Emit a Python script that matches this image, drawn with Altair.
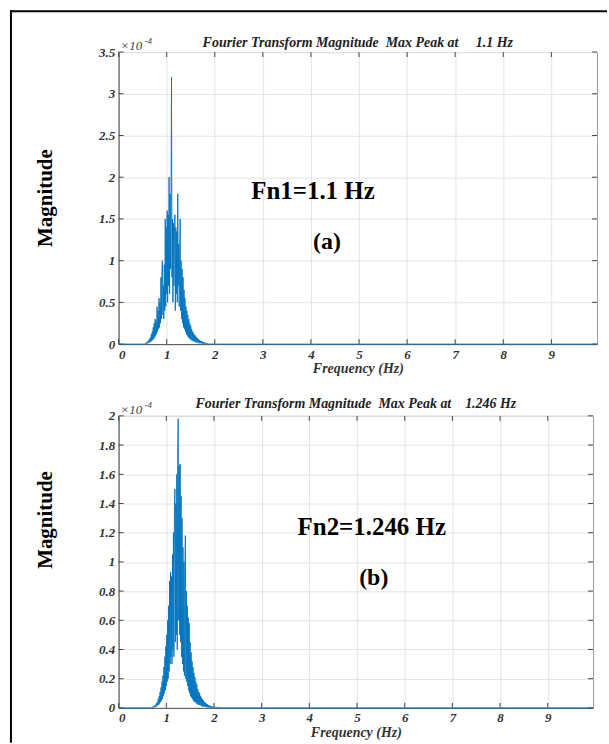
import altair as alt
import pandas as pd

FONT = "Liberation Serif"
BLUE = "#0072BD"

# ---------------- data (magnitudes in units of 1e-4) ----------------
freq_a = [0.0,
    0.55, 0.56, 0.57, 0.58, 0.59, 0.60, 0.61, 0.62, 0.63, 0.64,
    0.65, 0.66, 0.67, 0.68, 0.69, 0.70, 0.71, 0.72, 0.73, 0.74,
    0.75, 0.76, 0.77, 0.78, 0.79, 0.80, 0.81, 0.82, 0.83, 0.84,
    0.85, 0.86, 0.87, 0.88, 0.89, 0.90, 0.91, 0.92, 0.93, 0.94,
    0.95, 0.96, 0.97, 0.98, 0.99, 1.00, 1.01, 1.02, 1.03, 1.04,
    1.05, 1.06, 1.07, 1.08, 1.09, 1.10, 1.11, 1.12, 1.13, 1.14,
    1.15, 1.16, 1.17, 1.18, 1.19, 1.20, 1.21, 1.22, 1.23, 1.24,
    1.25, 1.26, 1.27, 1.28, 1.29, 1.30, 1.31, 1.32, 1.33, 1.34,
    1.35, 1.36, 1.37, 1.38, 1.39, 1.40, 1.41, 1.42, 1.43, 1.44,
    1.45, 1.46, 1.47, 1.48, 1.49, 1.50, 1.51, 1.52, 1.53, 1.54,
    1.55, 1.56, 1.57, 1.58, 1.59, 1.60, 1.61, 1.62, 1.63, 1.64,
    1.65, 1.66, 1.67, 1.68, 1.69, 1.70, 1.71, 1.72, 1.73, 1.74,
    1.75, 1.76, 1.77, 1.78, 1.79, 1.80, 1.81, 1.82, 1.83, 1.84,
    1.85, 1.86, 1.87, 1.88, 1.89, 1.90, 1.91, 1.92, 1.93, 1.94,
    1.95, 1.96, 1.97, 1.98, 1.99, 2.00, 2.01, 2.02, 2.03, 2.04,
    2.05, 9.95]
mag_a = [0.0,
    0.00, 0.01, 0.00, 0.02, 0.01, 0.03, 0.01, 0.04, 0.02, 0.06,
    0.02, 0.08, 0.03, 0.12, 0.04, 0.15, 0.05, 0.20, 0.06, 0.25,
    0.08, 0.30, 0.10, 0.28, 0.12, 0.45, 0.15, 0.40, 0.18, 0.55,
    0.20, 0.50, 0.25, 0.80, 0.30, 0.85, 1.00, 0.35, 0.70, 0.30,
    0.95, 0.40, 1.50, 0.45, 1.40, 0.60, 1.60, 0.50, 1.55, 0.70,
    2.00, 0.60, 1.80, 0.90, 1.65, 3.20, 0.80, 1.50, 0.50, 1.45,
    0.70, 1.30, 1.55, 0.40, 1.40, 0.60, 1.35, 0.50, 1.80, 0.70,
    1.20, 0.45, 1.10, 1.50, 0.40, 1.00, 0.30, 0.90, 0.25, 0.80,
    0.20, 0.65, 0.18, 0.55, 0.15, 0.45, 0.12, 0.40, 0.10, 0.35,
    0.08, 0.30, 0.07, 0.25, 0.06, 0.22, 0.05, 0.18, 0.04, 0.15,
    0.04, 0.13, 0.03, 0.11, 0.03, 0.10, 0.02, 0.08, 0.02, 0.07,
    0.02, 0.06, 0.01, 0.05, 0.01, 0.04, 0.01, 0.035, 0.01, 0.03,
    0.005, 0.025, 0.005, 0.02, 0.005, 0.015, 0.005, 0.012, 0.003, 0.01,
    0.003, 0.008, 0.002, 0.006, 0.002, 0.005, 0.001, 0.004, 0.001, 0.003,
    0.001, 0.003, 0.001, 0.002, 0.0, 0.002, 0.0, 0.001, 0.0, 0.001,
    0.0, 0.0]

freq_b = [0.0,
    0.70, 0.71, 0.72, 0.73, 0.74, 0.75, 0.76, 0.77, 0.78, 0.79,
    0.80, 0.81, 0.82, 0.83, 0.84, 0.85, 0.86, 0.87, 0.88, 0.89,
    0.90, 0.91, 0.92, 0.93, 0.94, 0.95, 0.96, 0.97, 0.98, 0.99,
    1.00, 1.01, 1.02, 1.03, 1.04, 1.05, 1.06, 1.07, 1.08, 1.09,
    1.10, 1.11, 1.12, 1.13, 1.14, 1.15, 1.16, 1.17, 1.18, 1.19,
    1.20, 1.21, 1.22, 1.23, 1.24, 1.25, 1.26, 1.27, 1.28, 1.29,
    1.30, 1.31, 1.32, 1.33, 1.34, 1.35, 1.36, 1.37, 1.38, 1.39,
    1.40, 1.41, 1.42, 1.43, 1.44, 1.45, 1.46, 1.47, 1.48, 1.49,
    1.50, 1.51, 1.52, 1.53, 1.54, 1.55, 1.56, 1.57, 1.58, 1.59,
    1.60, 1.61, 1.62, 1.63, 1.64, 1.65, 1.66, 1.67, 1.68, 1.69,
    1.70, 1.71, 1.72, 1.73, 1.74, 1.75, 1.76, 1.77, 1.78, 1.79,
    1.80, 1.81, 1.82, 1.83, 1.84, 1.85, 1.86, 1.87, 1.88, 1.89,
    1.90, 1.91, 1.92, 1.93, 1.94, 1.95, 1.96, 1.97, 1.98, 1.99,
    2.00, 2.02, 2.04, 2.06, 2.08, 2.10, 2.15, 2.20, 9.95]
mag_b = [0.0,
    0.00, 0.005, 0.00, 0.01, 0.005, 0.015, 0.005, 0.02, 0.01, 0.03,
    0.01, 0.04, 0.02, 0.06, 0.02, 0.08, 0.03, 0.11, 0.04, 0.14,
    0.05, 0.18, 0.06, 0.22, 0.08, 0.28, 0.10, 0.35, 0.12, 0.42,
    0.15, 0.50, 0.18, 0.60, 0.20, 0.70, 0.25, 0.87, 0.30, 0.93,
    0.35, 0.90, 0.30, 1.05, 0.40, 1.20, 0.35, 1.35, 1.50, 0.45,
    1.40, 0.50, 1.60, 0.40, 1.78, 1.98, 0.60, 1.66, 0.50, 1.67,
    0.45, 1.45, 0.35, 1.30, 0.30, 1.10, 0.25, 1.00, 0.22, 0.90,
    1.18, 0.20, 0.80, 0.18, 0.70, 0.15, 0.62, 0.12, 0.58, 0.10,
    0.45, 0.08, 0.38, 0.07, 0.32, 0.06, 0.28, 0.05, 0.24, 0.04,
    0.21, 0.04, 0.18, 0.03, 0.16, 0.03, 0.13, 0.02, 0.11, 0.02,
    0.10, 0.02, 0.08, 0.015, 0.07, 0.01, 0.06, 0.01, 0.05, 0.01,
    0.04, 0.008, 0.035, 0.006, 0.03, 0.005, 0.025, 0.004, 0.02, 0.004,
    0.017, 0.003, 0.014, 0.003, 0.012, 0.002, 0.01, 0.002, 0.008, 0.002,
    0.006, 0.005, 0.004, 0.003, 0.002, 0.002, 0.001, 0.0, 0.0]

assert len(freq_a) == len(mag_a), (len(freq_a), len(mag_a))
assert len(freq_b) == len(mag_b), (len(freq_b), len(mag_b))

x_ticks = [0, 1, 2, 3, 4, 5, 6, 7, 8, 9]
y_ticks_a = [0, 0.5, 1, 1.5, 2, 2.5, 3, 3.5]
y_ticks_b = [0, 0.2, 0.4, 0.6, 0.8, 1.0, 1.2, 1.4, 1.6, 1.8, 2.0]
X_MAX = 9.95

NB = "\u00a0"
title_a = "Fourier Transform Magnitude" + NB * 2 + "Max Peak at" + NB * 5 + "1.1 Hz"
title_b = "Fourier Transform Magnitude" + NB * 2 + "Max Peak at" + NB * 4 + "1.246 Hz"


def txt(s, x, y, size, weight="bold", style="normal", angle=0, color="black",
        align="center", baseline="middle"):
    return alt.Chart(pd.DataFrame({"s": [s]})).mark_text(
        font=FONT, fontSize=size, fontWeight=weight, fontStyle=style,
        angle=angle, color=color, align=align, baseline=baseline,
    ).encode(text="s:N", x=alt.value(x), y=alt.value(y))


def panel(freq, mag, yticks, ymax, title, w, h, fn_text, fn_xy, lab_text, lab_xy,
          mag_y, title_y, border=False):
    df = pd.DataFrame({"f": freq, "m": mag})
    xsc = alt.Scale(domain=[0, X_MAX], nice=False, zero=False)
    ysc = alt.Scale(domain=[0, ymax], nice=False)
    x_axis = alt.Axis(values=x_ticks, title="Frequency (Hz)", format="d")
    y_axis = alt.Axis(values=yticks, title=None, format="~g")
    line = alt.Chart(df).mark_line(color=BLUE, strokeWidth=0.9).encode(
        x=alt.X("f:Q", scale=xsc, axis=x_axis),
        y=alt.Y("m:Q", scale=ysc, axis=y_axis),
    )
    xt = pd.DataFrame({"f": x_ticks})
    yt = pd.DataFrame({"m": yticks})
    tick_col = "#444444"
    xb = alt.Chart(xt).mark_rule(color=tick_col, strokeWidth=1).encode(
        x=alt.X("f:Q", scale=xsc, axis=x_axis), y=alt.value(h), y2=alt.value(h - 5))
    xtop = alt.Chart(xt).mark_rule(color=tick_col, strokeWidth=1).encode(
        x=alt.X("f:Q", scale=xsc, axis=x_axis), y=alt.value(0), y2=alt.value(5))
    yl = alt.Chart(yt).mark_rule(color=tick_col, strokeWidth=1).encode(
        y=alt.Y("m:Q", scale=ysc, axis=y_axis), x=alt.value(0), x2=alt.value(5))
    yr = alt.Chart(yt).mark_rule(color=tick_col, strokeWidth=1).encode(
        y=alt.Y("m:Q", scale=ysc, axis=y_axis), x=alt.value(w), x2=alt.value(w - 5))

    layers = [xb, xtop, yl, yr, line,
              txt(title, w / 2, title_y, 14, style="italic", color="#222222",
                  baseline="alphabetic"),
              txt("Magnitude", -73, mag_y, 21, angle=270),
              txt(fn_text, fn_xy[0], fn_xy[1], 25),
              txt(lab_text, lab_xy[0], lab_xy[1], 24),
              txt("\u00d710", 2, -2, 13, style="italic", weight="normal",
                  color="#444444", align="left", baseline="alphabetic"),
              txt("-4", 26, -8, 9, style="italic", weight="normal",
                  color="#444444", align="left", baseline="alphabetic")]
    if border:
        bdf = pd.DataFrame({"k": [0]})
        layers.append(alt.Chart(bdf).mark_rule(color="black", strokeWidth=2).encode(
            x=alt.value(-109), x2=alt.value(490), y=alt.value(-41)))
        layers.append(alt.Chart(bdf).mark_rule(color="black", strokeWidth=2).encode(
            x=alt.value(-108), y=alt.value(-42), y2=alt.value(693)))
    return alt.layer(*layers).properties(width=w, height=h)


pa = panel(freq_a, mag_a, y_ticks_a, 3.5, title_a, 480, 293,
           "Fn1=1.1 Hz", (195, 139), "(a)", (209, 191), 146.5, -5, border=True)
pb = panel(freq_b, mag_b, y_ticks_b, 2.0, title_b, 476, 293,
           "Fn2=1.246 Hz", (254, 112), "(b)", (256, 163), 104.5, -8)

chart = alt.vconcat(pa, pb, spacing=72, bounds="flush").properties(
    padding={"left": 8, "top": 7, "right": 0, "bottom": 0},
    background="white",
).configure_view(
    stroke="#999999", strokeWidth=1,
).configure_axis(
    labelFont=FONT, labelFontSize=13, labelFontStyle="italic", labelFontWeight="bold",
    labelColor="#333333", titleFont=FONT, titleFontSize=14, titleFontStyle="italic",
    titleFontWeight="bold", titleColor="#333333", domainColor="#555555",
    gridColor="#e4e4e4", gridWidth=1, ticks=False, labelPadding=4, titlePadding=1,
)

chart.save("out.html", embed_options={"renderer": "svg", "actions": False})
